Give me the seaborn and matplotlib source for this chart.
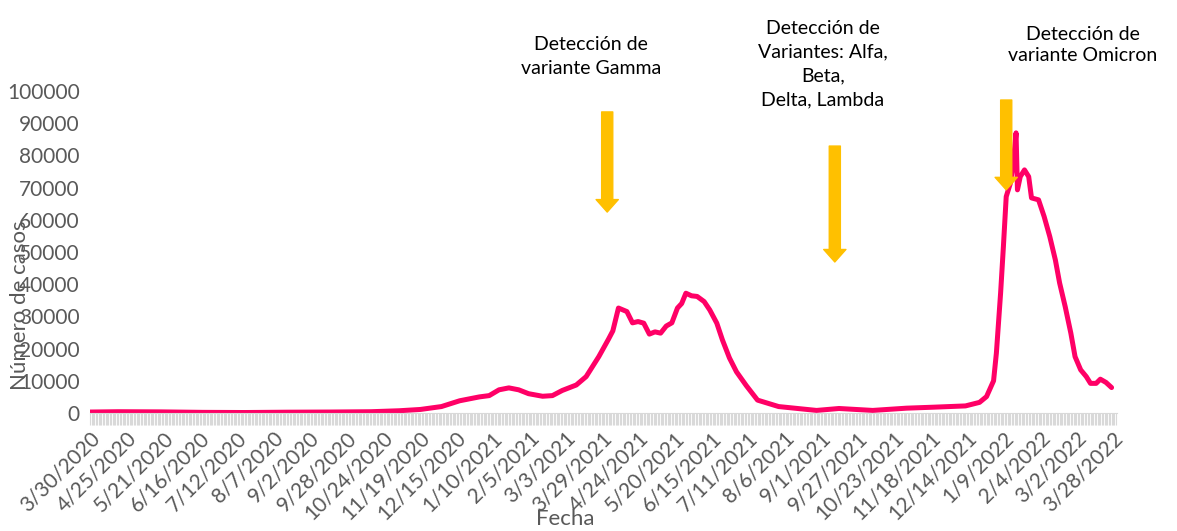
import pandas as pd
import matplotlib.pyplot as plt
import matplotlib.ticker as ticker
import matplotlib.dates as mdates
import seaborn as sns

# Values (day offset from 3/30/2020, daily cases)
inicio = pd.Timestamp("2020-03-30")
dia = [0, 20, 50, 80, 110, 140, 170, 200, 220, 235, 250, 263, 277, 284, 291, 298,
       305, 312, 322, 329, 336, 346, 353, 362, 369, 372, 376, 382, 386, 390, 394,
       398, 402, 406, 410, 414, 418, 421, 424, 428, 432, 437, 441, 446, 450, 455,
       460, 467, 475, 490, 517, 533, 557, 581, 600, 623, 633, 638, 643, 645, 648,
       650, 652, 655, 657, 659, 660, 662, 665, 668, 670, 675, 679, 683, 687, 690,
       694, 698, 701, 705, 709, 712, 716, 719, 723, 727]
casos = [300, 400, 350, 200, 150, 250, 300, 400, 700, 1100, 2000, 3800, 5000, 5400,
         7200, 7800, 7200, 6000, 5200, 5400, 7000, 8700, 11300, 17500, 23000, 25500,
         32600, 31500, 28000, 28400, 27900, 24500, 25200, 24800, 27000, 28000, 32600,
         34000, 37200, 36400, 36200, 34600, 32000, 27900, 22700, 17100, 12800, 8500,
         4000, 2000, 800, 1400, 800, 1500, 1800, 2200, 3300, 5100, 10000, 18600,
         37200, 51700, 67200, 71400, 77600, 87000, 69300, 73400, 75500, 73400, 66800,
         66200, 61000, 54800, 47500, 40400, 33000, 24800, 17500, 13400, 11300, 9200,
         9200, 10500, 9500, 7900]

# Annotations: text, arrow day offset, arrow top, arrow tip
notas = ["Detección de\nvariante Gamma",
         "Detección de\nVariantes: Alfa,\nBeta,\nDelta, Lambda",
         "Detección de\nvariante Omicron"]
flecha_dia = [368, 530, 652]
flecha_top = [93500, 82900, 97200]
flecha_tip = [62400, 46900, 69300]

df = pd.DataFrame({"Fecha": inicio + pd.to_timedelta(dia, unit="D"), "casos": casos})

sns.set_style("white")
plt.rcParams['font.family'] = ['Lato', 'DejaVu Sans']

fig = plt.figure(figsize=(11.77, 5.31), dpi=100)
ax = fig.add_axes([89.5 / 1177, 118 / 531, 1027 / 1177, 322 / 531])

sns.lineplot(data=df, x="Fecha", y="casos", color="#FF0066", linewidth=3.6, ax=ax)

# Arrows
for d, top, tip in zip(flecha_dia, flecha_top, flecha_tip):
    x = inicio + pd.Timedelta(days=d)
    ax.annotate("", xy=(x, tip), xytext=(x, top), annotation_clip=False,
                arrowprops=dict(arrowstyle="simple,head_length=0.45,head_width=0.8,tail_width=0.4",
                                color="#FFC000", shrinkA=0, shrinkB=0, mutation_scale=20))

# Annotation texts (figure pixel positions)
for txt, (px, py, ls) in zip(notas, [(591, 56, 1.5), (823, 64, 1.5), (1083, 45, 1.35)]):
    fig.text(px / 1177, 1 - py / 531, txt, ha="center", va="center", fontsize=14,
             color="black", linespacing=ls)

# Axes formatting
ax.set_ylim(0, 100000)
ax.set_xlim(inicio - pd.Timedelta(hours=12), pd.Timestamp("2022-03-30 12:00"))
ax.yaxis.set_major_locator(ticker.MultipleLocator(10000))
ax.tick_params(axis="y", length=0, pad=7, labelsize=15, labelcolor="#595959")

ticks = pd.date_range("2020-03-30", "2022-03-28", freq="26D")
ax.set_xticks(ticks)
ax.set_xticklabels([f"{t.month}/{t.day}/{t.year}" for t in ticks])
ax.xaxis.set_minor_locator(mdates.DayLocator())
ax.tick_params(axis="x", which="both", length=8.6, width=0.8, color="#D9D9D9",
               direction="out", bottom=True)
ax.tick_params(axis="x", which="major", labelsize=15, labelcolor="#595959", pad=2)
for lbl in ax.get_xticklabels():
    lbl.set_rotation(45)
    lbl.set_ha("right")
    lbl.set_va("top")
    lbl.set_rotation_mode("anchor")

for s in ["top", "right", "left"]:
    ax.spines[s].set_visible(False)
ax.spines["bottom"].set_color("#D9D9D9")

ax.set_xlabel("")
ax.set_ylabel("")
fig.text(20 / 1177, 1 - 305 / 531, "Número de casos", rotation=90, ha="center", va="center",
         fontsize=16, color="#595959")
fig.text(565 / 1177, 1 - 519 / 531, "Fecha", ha="center", va="center", fontsize=16,
         color="#595959")

plt.savefig("out.png", dpi=100)
